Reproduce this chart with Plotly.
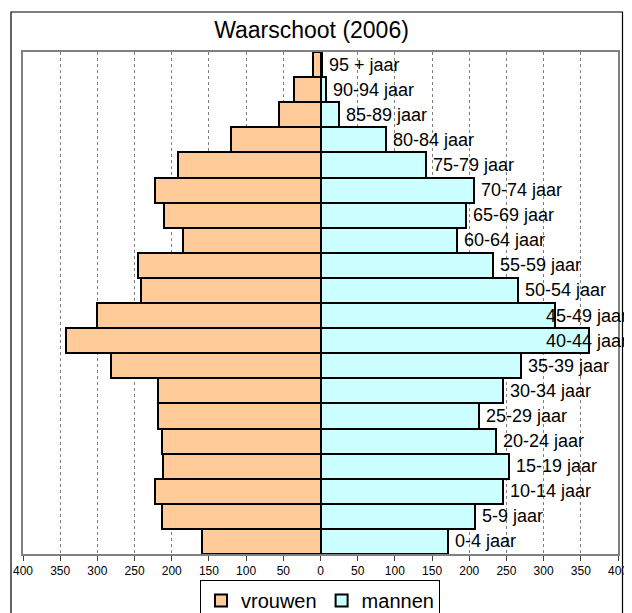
import plotly.graph_objects as go

categories = ["0-4 jaar", "5-9 jaar", "10-14 jaar", "15-19 jaar", "20-24 jaar",
              "25-29 jaar", "30-34 jaar", "35-39 jaar", "40-44 jaar", "45-49 jaar",
              "50-54 jaar", "55-59 jaar", "60-64 jaar", "65-69 jaar", "70-74 jaar",
              "75-79 jaar", "80-84 jaar", "85-89 jaar", "90-94 jaar", "95 + jaar"]
vrouwen = [159, 213, 223, 212, 213, 218, 218, 282, 342, 301,
           242, 246, 185, 211, 223, 192, 120, 56, 36, 10]
mannen = [172, 208, 246, 254, 236, 213, 246, 270, 361, 315,
          265, 232, 183, 196, 207, 142, 88, 25, 8, 2]
tick_values = list(range(-400, 401, 50))
tick_labels = [str(abs(v)) for v in tick_values]

FONT = "Arial, Liberation Sans, sans-serif"
OFF = 8  # page body margin
W, H = 632 - OFF, 613 - OFF
# plot area in page pixels: x 23..618, y 52..554
L = 23 - OFF
T = 52 - OFF
R = W - (618 - OFF)
B = H - (554 - OFF)
pw, ph = W - L - R, H - T - B

def px_x(p):
    return (p - OFF - L) / pw

def px_y(p):
    return (H - B - (p - OFF)) / ph

fig = go.Figure()
fig.add_trace(go.Bar(
    y=categories, x=[-v for v in vrouwen], orientation="h", name="vrouwen",
    marker=dict(color="#FFCC99", line=dict(color="black", width=2)),
    width=1,
))
fig.add_trace(go.Bar(
    y=categories, x=mannen, orientation="h", name="mannen",
    marker=dict(color="#CCFFFF", line=dict(color="black", width=2)),
    width=1,
))

label_clamp = 294
for cat, m in zip(categories, mannen):
    fig.add_annotation(
        x=min(m, label_clamp), y=cat, xref="x", yref="y",
        text=cat, showarrow=False, xanchor="left", yanchor="middle",
        xshift=5, font=dict(family=FONT, size=18, color="black"),
    )

fig.add_shape(type="rect", xref="paper", yref="paper",
              x0=px_x(11), x1=px_x(622.5), y0=px_y(620), y1=px_y(12),
              line=dict(color="black", width=1.2), fillcolor="rgba(0,0,0,0)",
              layer="above")

fig.update_layout(
    width=W, height=H,
    margin=dict(l=L, r=R, t=T, b=B, autoexpand=False),
    paper_bgcolor="white", plot_bgcolor="white",
    barmode="overlay", bargap=0,
    title=dict(text="Waarschoot (2006)", x=(311.5 - OFF) / W, y=1 - (30 - OFF) / H,
               xanchor="center", yanchor="middle", xref="container", yref="container",
               font=dict(family=FONT, size=23, color="black")),
    font=dict(family=FONT, color="black"),
    showlegend=True,
    legend=dict(orientation="h", x=px_x(320), y=px_y(580), xanchor="center", yanchor="top",
                bordercolor="black", borderwidth=1, bgcolor="white",
                font=dict(family=FONT, size=20, color="black"),
                itemwidth=30, traceorder="normal", tracegroupgap=0),
    xaxis=dict(range=[-400, 400], tickvals=tick_values, ticktext=tick_labels,
               showgrid=True, gridcolor="#808080", griddash="dot", gridwidth=1,
               zeroline=False, showline=True, linecolor="#808080", linewidth=2, mirror=True,
               ticks="outside", ticklen=5, tickcolor="#404040", tickwidth=1,
               automargin=False,
               tickfont=dict(family=FONT, size=12, color="black")),
    yaxis=dict(showticklabels=False, showgrid=False, zeroline=False, automargin=False,
               showline=True, linecolor="#808080", linewidth=2, mirror=True,
               categoryorder="array", categoryarray=categories, ticks=""),
)

fig.write_html("out.html")
